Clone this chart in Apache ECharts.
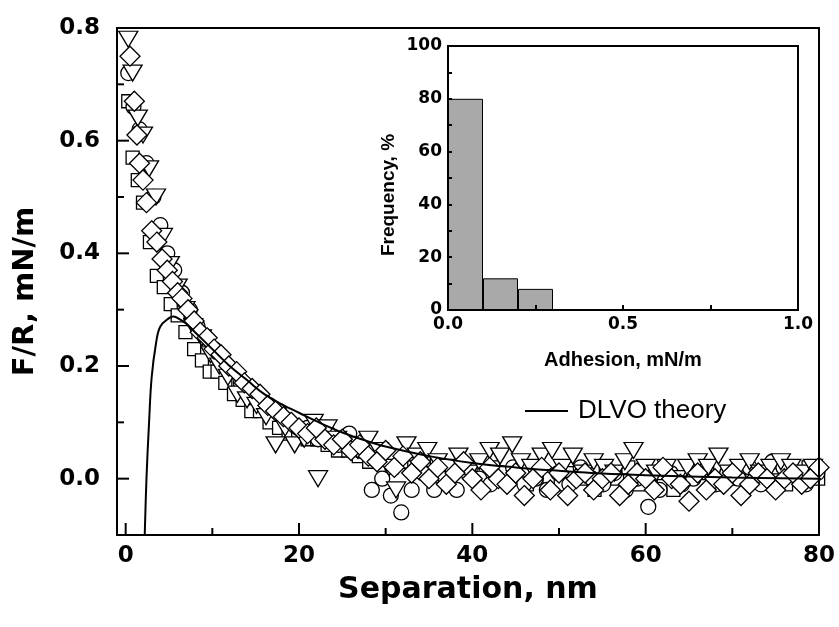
<!DOCTYPE html>
<html><head><meta charset="utf-8">
<script src="https://cdn.jsdelivr.net/npm/echarts@6/dist/echarts.min.js"></script>
<style>html,body{margin:0;padding:0;background:#fff}#c{width:839px;height:627px}</style>
</head><body><div id="c"></div>
<script>
// ---- data ----
var squares = [[0.3,0.67],[0.8,0.57],[1.4,0.53],[2.0,0.49],[2.8,0.42],[3.6,0.36],[4.4,0.34],[5.2,0.31],[6.0,0.29],[6.9,0.26],[7.9,0.23],[8.8,0.21],[9.7,0.19],[10.6,0.19],[11.5,0.17],[12.5,0.15],[13.5,0.14],[14.5,0.12],[15.5,0.12],[16.6,0.10],[17.7,0.09],[18.8,0.08],[19.9,0.08],[21.0,0.07],[22.1,0.07],[23.3,0.06],[24.5,0.05],[25.7,0.05],[26.9,0.04],[28.1,0.03],[29.4,0.04],[30.7,0.02],[32.0,0.03],[33.3,0.02],[34.6,0.01],[35.9,0.03],[37.2,0.00],[38.5,0.02],[39.8,0.01],[41.1,-0.01],[42.4,0.02],[43.7,0.00],[45.0,0.01],[46.3,-0.01],[47.6,0.02],[48.9,0.00],[50.2,-0.01],[51.5,0.01],[52.8,0.00],[54.1,-0.02],[55.4,0.01],[56.7,0.00],[58.0,0.02],[59.3,-0.01],[60.6,0.00],[61.9,0.01],[63.2,-0.02],[64.5,0.00],[65.8,0.02],[67.1,0.01],[68.4,-0.01],[69.7,0.00],[71.0,0.02],[72.3,0.01],[73.6,0.00],[74.9,0.02],[76.2,-0.01],[77.5,0.01],[78.8,0.02],[79.9,0.00]];
var circles = [[0.3,0.72],[0.9,0.66],[1.6,0.62],[2.4,0.56],[3.2,0.50],[4.0,0.45],[4.8,0.40],[5.6,0.37],[6.5,0.33],[7.4,0.30],[8.3,0.27],[9.2,0.25],[10.2,0.23],[11.2,0.21],[12.2,0.19],[13.3,0.17],[14.4,0.16],[15.5,0.14],[16.6,0.13],[17.7,0.12],[18.8,0.10],[19.9,0.09],[21.0,0.09],[22.2,0.07],[23.4,0.08],[24.6,0.06],[25.8,0.08],[27.0,0.05],[28.4,-0.02],[29.6,0.00],[30.6,-0.03],[31.8,-0.06],[33.0,-0.02],[34.3,0.01],[35.6,-0.02],[36.9,0.00],[38.2,-0.02],[39.5,0.01],[40.8,0.00],[42.1,-0.01],[43.4,0.01],[44.7,0.02],[46.0,-0.01],[47.3,0.00],[48.6,-0.02],[49.9,0.01],[51.2,-0.01],[52.5,0.02],[53.8,0.00],[55.1,-0.01],[56.4,0.01],[57.7,-0.02],[59.0,0.00],[60.3,-0.05],[61.6,-0.02],[62.9,0.01],[64.2,-0.01],[65.5,0.00],[66.8,0.02],[68.1,-0.01],[69.4,0.01],[70.7,0.00],[72.0,0.02],[73.3,-0.01],[74.6,0.03],[75.9,0.02],[77.2,0.01],[78.5,-0.01],[79.8,0.01]];
var triangles = [[0.3,0.78],[0.8,0.72],[1.4,0.64],[2.0,0.61],[2.7,0.55],[3.5,0.50],[4.3,0.43],[5.1,0.38],[6.0,0.34],[6.9,0.30],[7.8,0.27],[8.8,0.25],[9.8,0.22],[10.8,0.20],[11.8,0.18],[12.9,0.15],[14.0,0.14],[15.1,0.13],[16.2,0.11],[17.3,0.06],[18.4,0.09],[19.5,0.06],[20.6,0.07],[21.7,0.10],[22.2,0.00],[23.3,0.09],[24.4,0.07],[25.6,0.06],[26.8,0.05],[28.0,0.07],[29.2,0.05],[30.4,0.02],[31.2,-0.02],[32.4,0.06],[33.6,0.04],[34.8,0.05],[36.0,0.03],[37.2,0.02],[38.4,0.04],[39.6,0.01],[40.8,0.03],[42.0,0.05],[43.2,0.04],[44.6,0.06],[45.6,0.03],[46.8,0.02],[48.0,0.04],[49.2,0.05],[50.4,0.02],[51.6,0.04],[52.8,0.01],[54.0,0.03],[55.2,0.02],[56.4,0.01],[57.6,0.03],[58.6,0.05],[60.0,0.02],[61.2,0.01],[62.4,0.02],[63.6,0.00],[64.8,0.02],[66.0,0.03],[67.2,0.02],[68.4,0.04],[69.6,0.01],[70.8,0.02],[72.0,0.03],[73.2,0.01],[74.4,0.02],[75.6,0.03],[76.8,0.02],[78.0,0.01],[79.3,0.02]];
var diamonds = [[0.5,0.75],[1.0,0.67],[1.3,0.61],[1.6,0.56],[2.0,0.53],[2.4,0.49],[3.0,0.44],[3.6,0.42],[4.2,0.39],[4.8,0.37],[5.4,0.35],[6.0,0.33],[6.5,0.32],[7.2,0.30],[7.9,0.28],[8.6,0.26],[9.4,0.25],[10.2,0.23],[11.0,0.22],[11.9,0.20],[12.8,0.19],[13.7,0.17],[14.6,0.16],[15.5,0.15],[16.4,0.13],[17.3,0.12],[18.2,0.11],[19.1,0.10],[20.0,0.09],[21.0,0.08],[22.0,0.09],[23.0,0.07],[24.0,0.06],[25.0,0.07],[26.0,0.05],[27.0,0.06],[28.0,0.04],[29.0,0.03],[30.0,0.05],[31.0,0.02],[32.0,0.04],[33.0,0.01],[34.0,0.03],[35.0,0.00],[36.0,0.02],[37.0,-0.01],[38.0,0.01],[39.0,0.03],[40.0,0.00],[41.0,-0.02],[42.0,0.02],[43.0,0.00],[44.0,-0.01],[45.0,0.01],[46.0,-0.03],[47.0,0.00],[48.0,0.02],[49.0,-0.02],[50.0,0.01],[51.0,-0.03],[52.0,0.00],[53.0,0.01],[54.0,-0.02],[55.0,0.00],[56.0,0.01],[57.0,-0.03],[58.0,-0.01],[59.0,0.01],[60.0,0.00],[61.0,-0.02],[62.0,0.02],[63.0,0.00],[64.0,-0.01],[65.0,-0.04],[66.0,0.01],[67.0,-0.02],[68.0,0.00],[69.0,-0.01],[70.0,0.01],[71.0,-0.03],[72.0,-0.01],[73.0,0.01],[74.0,0.00],[75.0,-0.02],[76.0,0.00],[77.0,0.01],[78.0,-0.01],[79.0,0.00],[80.0,0.02]];
var dlvo = [[2.2,-0.1],[2.4,0.0],[2.7,0.1],[3.0,0.18],[3.5,0.24],[4.0,0.27],[5.0,0.285],[5.5,0.288],[6.0,0.285],[7.0,0.275],[8.0,0.26],[10.0,0.23],[12.0,0.2],[14.0,0.175],[16.0,0.15],[18.0,0.132],[20.0,0.117],[22.0,0.102],[25.0,0.082],[28.0,0.066],[30.0,0.057],[35.0,0.04],[40.0,0.028],[45.0,0.02],[50.0,0.014],[55.0,0.009],[60.0,0.006],[70.0,0.002],[80.0,0.0]];
var adhesionBins = [0.05, 0.15, 0.25];
var frequency = [80, 12, 8];
var xTickLabels = [0, 20, 40, 60, 80];
var xMajorTicks = [0, 20, 40, 60];
var xMinorTicks = [10, 30, 50, 70];
var yTickLabels = [0, 0.2, 0.4, 0.6, 0.8];
var yMajorTicks = [0, 0.2, 0.4, 0.6];
var yMinorTicks = [0.1, 0.3, 0.5, 0.7];
var insetXLabels = [0, 0.5, 1.0];
var insetXTicks = [0.25, 0.5, 0.75];
var insetYLabels = [0, 20, 40, 60, 80, 100];
var insetYTicks = [10, 20, 30, 40, 50, 60, 70, 80, 90];

var X_MIN = -1, X_MAX = 80, Y_MIN = -0.1, Y_MAX = 0.8;
var BOLD = '"DejaVu Sans", sans-serif';
var ARIAL = '"Liberation Sans", Arial, sans-serif';
var chart = echarts.init(document.getElementById('c'), null, {renderer: 'canvas'});
function sc(data, sym, size, rot, z) {
  return {type: 'scatter', xAxisIndex: 0, yAxisIndex: 0, data: data, symbol: sym, symbolSize: size,
    symbolRotate: rot, z: z, itemStyle: {color: '#fff', borderColor: '#000', borderWidth: 1.3, opacity: 1}, silent: true, clip: true};
}
// inward tick marks on the main axes, placed through the axes' own scales
function tickMarks(points, size, offset) {
  return {type: 'scatter', xAxisIndex: 0, yAxisIndex: 0, data: points, symbol: 'rect', symbolSize: size,
    symbolOffset: offset, z: 9, clip: false, silent: true, itemStyle: {color: '#000', opacity: 1}};
}
var tickStyle = {color: '#000', width: 2, opacity: 1};
var option = {
  animation: false,
  backgroundColor: '#fff',
  grid: [
    {left: 117, top: 28, width: 702, height: 507, show: false},
    {left: 448, top: 46, width: 350, height: 264, show: true, borderColor: '#000', borderWidth: 2, backgroundColor: '#fff', z: 5}
  ],
  legend: {data: [{name: 'DLVO theory', icon: 'rect'}], left: 520, top: 393, itemWidth: 43, itemHeight: 2,
    textStyle: {fontFamily: ARIAL, fontSize: 26, color: '#000', padding: [0, 0, 0, 5]}, selectedMode: false},
  xAxis: [
    {type: 'value', gridIndex: 0, min: X_MIN, max: X_MAX, position: 'bottom', z: 8,
      axisLine: {show: true, onZero: false, lineStyle: {color: '#000', width: 2}},
      axisTick: {show: false},
      axisLabel: {show: true, customValues: xTickLabels, margin: 10, fontFamily: BOLD, fontWeight: 'bold', fontSize: 23, color: '#000'},
      splitLine: {show: false},
      name: 'Separation, nm', nameLocation: 'middle', nameGap: 40,
      nameTextStyle: {fontFamily: BOLD, fontWeight: 'bold', fontSize: 30, color: '#000'}},
    {type: 'value', gridIndex: 1, min: 0, max: 1, position: 'bottom', z: 8,
      axisLine: {show: true, onZero: false, lineStyle: {color: '#000', width: 2}},
      axisTick: {show: true, inside: true, length: 5, customValues: insetXTicks, lineStyle: tickStyle},
      axisLabel: {customValues: insetXLabels, margin: 6, fontFamily: BOLD, fontWeight: 'bold', fontSize: 17, color: '#000',
        formatter: function (v) { return v.toFixed(1); }},
      splitLine: {show: false},
      name: 'Adhesion, mN/m', nameLocation: 'middle', nameGap: 40,
      nameTextStyle: {fontFamily: ARIAL, fontWeight: 'bold', fontSize: 20, color: '#000'}},
    {type: 'value', gridIndex: 0, min: X_MIN, max: X_MAX, position: 'top', z: 8,
      axisLine: {show: true, onZero: false, lineStyle: {color: '#000', width: 2}},
      axisTick: {show: false}, axisLabel: {show: false}, splitLine: {show: false}}
  ],
  yAxis: [
    {type: 'value', gridIndex: 0, min: Y_MIN, max: Y_MAX, position: 'left', z: 8,
      axisLine: {show: true, onZero: false, lineStyle: {color: '#000', width: 2}},
      axisTick: {show: false},
      axisLabel: {show: true, customValues: yTickLabels, margin: 17, fontFamily: BOLD, fontWeight: 'bold', fontSize: 23, color: '#000',
        formatter: function (v) { return v.toFixed(1); }},
      splitLine: {show: false},
      name: 'F/R, mN/m', nameLocation: 'middle', nameGap: 77,
      nameTextStyle: {fontFamily: BOLD, fontWeight: 'bold', fontSize: 29, color: '#000', padding: [0, 20, 0, 0]}},
    {type: 'value', gridIndex: 1, min: 0, max: 100, position: 'left', z: 8,
      axisLine: {show: true, onZero: false, lineStyle: {color: '#000', width: 2}},
      axisTick: {show: true, inside: true, length: 4, customValues: insetYTicks, lineStyle: tickStyle},
      axisLabel: {customValues: insetYLabels, margin: 6, fontFamily: BOLD, fontWeight: 'bold', fontSize: 17, color: '#000'},
      splitLine: {show: false},
      name: 'Frequency, %', nameLocation: 'middle', nameGap: 50,
      nameTextStyle: {fontFamily: ARIAL, fontWeight: 'bold', fontSize: 19, color: '#000', padding: [0, 34, 0, 0]}},
    {type: 'value', gridIndex: 0, min: Y_MIN, max: Y_MAX, position: 'right', z: 8,
      axisLine: {show: true, onZero: false, lineStyle: {color: '#000', width: 2}},
      axisTick: {show: false}, axisLabel: {show: false}, splitLine: {show: false}}
  ],
  series: [
    sc(squares, 'rect', 13, 0, 2),
    sc(circles, 'circle', 15, 0, 3),
    sc(triangles, 'triangle', [19, 16], 180, 4),
    sc(diamonds, 'diamond', 20, 0, 5),
    {type: 'line', name: 'DLVO theory', xAxisIndex: 0, yAxisIndex: 0, data: dlvo, smooth: 0.4, symbol: 'none', showSymbol: false,
      lineStyle: {color: '#000', width: 2}, itemStyle: {color: '#000'}, z: 6, clip: true, silent: true},
    {type: 'bar', xAxisIndex: 1, yAxisIndex: 1, z: 6,
      data: adhesionBins.map(function (b, i) { return [b, frequency[i]]; }),
      barWidth: 35, itemStyle: {color: '#a9a9a9', borderColor: '#000', borderWidth: 1}, silent: true},
    tickMarks(xMajorTicks.map(function (v) { return [v, Y_MIN]; }), [2, 12], [0, -6]),
    tickMarks(xMinorTicks.map(function (v) { return [v, Y_MIN]; }), [2, 7], [0, -3.5]),
    tickMarks(yMajorTicks.map(function (v) { return [X_MIN, v]; }), [12, 2], [6, 0]),
    tickMarks(yMinorTicks.map(function (v) { return [X_MIN, v]; }), [7, 2], [3.5, 0])
  ]
};
chart.setOption(option);
</script></body></html>
